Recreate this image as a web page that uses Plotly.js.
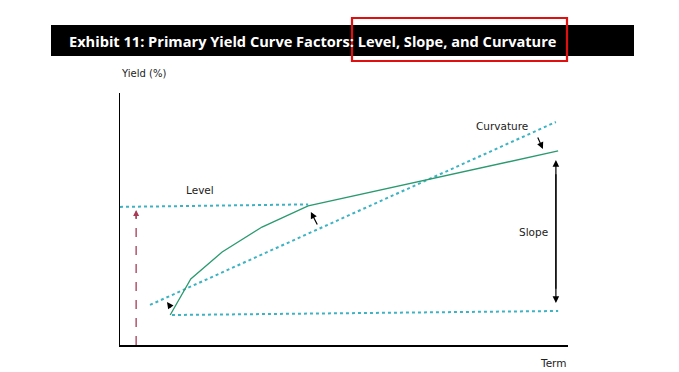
<!DOCTYPE html>
<html>
<head>
<meta charset="utf-8">
<script src="https://cdn.plot.ly/plotly-3.0.1.min.js"></script>
<style>html,body{margin:0;padding:0;background:#fff;}#chart{width:679px;height:372px;}</style>
</head>
<body>
<div id="chart"></div>
<script>
// Data (conceptual units: term 0-100, yield 0-100)
const curveTerm  = [11.2, 15.8, 22.8, 31.7, 42.0, 97.8];
const curveYield = [11.9, 26.2, 36.9, 46.8, 55.2, 77.0];
const levelTerm  = [0, 42.0];
const levelYield = [54.8, 55.8];
const curvTerm   = [6.7, 97.3];
const curvYield  = [15.9, 88.5];
const baseTerm   = [11.6, 97.8];
const baseYield  = [11.9, 13.5];
const levelArrowTerm = 3.6;
const levelArrowYield = [0, 53.6];
const slopeArrowTerm = 97.3;
const slopeArrowYield = [16.7, 73.4];
const labels = ["Level", "Curvature", "Slope"];
const labelTerm = [17.9, 85.3, 92.2];
const labelYield = [61.5, 86.9, 44.8];
const titleText = "Exhibit 11: Primary Yield Curve Factors: Level, Slope, and Curvature";

const W = 679, H = 372;
const L = 120, R = 568, T = 93, B = 345;
const px = x => (x - L) / (R - L);
const py = y => (B - y) / (B - T);

const dotColor = "#3cb3c3";
const traces = [
  {x: levelTerm, y: levelYield, mode: "lines", line: {color: dotColor, width: 2, dash: "dot"}},
  {x: curvTerm, y: curvYield, mode: "lines", line: {color: dotColor, width: 2, dash: "dot"}},
  {x: baseTerm, y: baseYield, mode: "lines", line: {color: dotColor, width: 2, dash: "dot"}},
  {x: curveTerm, y: curveYield, mode: "lines", line: {color: "#2a9a70", width: 1.3}},
  {x: [levelArrowTerm, levelArrowTerm], y: [levelArrowYield[0], levelArrowYield[1] - 1], mode: "lines", line: {color: "#a83a55", width: 1.3, dash: "dash"}}
];

const ann = [];
function arrow(x, y, ax, ay, color, head, size) {
  ann.push({x: x, y: y, ax: ax, ay: ay, xref: "x", yref: "y", axref: "x", ayref: "y",
    showarrow: true, arrowhead: head, arrowsize: size, arrowwidth: 1.2, arrowcolor: color, text: ""});
}
arrow(levelArrowTerm, levelArrowYield[1], levelArrowTerm, levelArrowYield[1] - 4, "#a83a55", 2, 1);
arrow(slopeArrowTerm, slopeArrowYield[1], slopeArrowTerm, slopeArrowYield[0] + 5, "#000", 2, 1.1);
arrow(slopeArrowTerm, slopeArrowYield[0], slopeArrowTerm, slopeArrowYield[1] - 5, "#000", 2, 1.1);
arrow(10.5, 17.1, 11.6, 14.3, "#000", 2, 1.1);
arrow(42.6, 52.8, 44.2, 47.2, "#000", 2, 1.1);
arrow(94.4, 77.8, 93.1, 82.9, "#000", 2, 1.1);

for (let i = 0; i < labels.length; i++) {
  ann.push({x: labelTerm[i], y: labelYield[i], xref: "x", yref: "y", xanchor: "center", yanchor: "middle", text: labels[i], showarrow: false,
    font: {family: "DejaVu Sans", size: 10.5, color: "#222"}});
}
ann.push({x: px(119), y: py(73), xref: "paper", yref: "paper", xanchor: "left", yanchor: "middle", text: "Yield (%)", showarrow: false,
  font: {family: "DejaVu Sans", size: 10, color: "#222"}});
ann.push({x: px(568), y: py(363), xref: "paper", yref: "paper", xanchor: "right", yanchor: "middle", text: "Term", showarrow: false,
  font: {family: "DejaVu Sans", size: 10.5, color: "#222"}});
ann.push({x: px(67), y: py(41), xref: "paper", yref: "paper", xanchor: "left", yanchor: "middle", text: "<b>" + titleText + "</b>", showarrow: false,
  font: {family: "Open Sans", size: 14.6, color: "#fff"}});

const shapes = [
  {type: "rect", xref: "paper", yref: "paper", x0: px(51), x1: px(634), y0: py(25), y1: py(56), fillcolor: "#000", line: {width: 0}, layer: "below"},
  {type: "rect", xref: "paper", yref: "paper", x0: px(352), x1: px(567), y0: py(18), y1: py(61), fillcolor: "rgba(0,0,0,0)", line: {color: "#e01010", width: 2.2}}
];

const layout = {
  width: W, height: H,
  margin: {l: L, r: W - R, t: T, b: H - B, pad: 0},
  paper_bgcolor: "#fff", plot_bgcolor: "#fff",
  showlegend: false,
  xaxis: {range: [0, 100], showline: true, linecolor: "#000", linewidth: 1.5, showgrid: false, zeroline: false, showticklabels: false, ticks: ""},
  yaxis: {range: [0, 100], showline: true, linecolor: "#000", linewidth: 1.5, showgrid: false, zeroline: false, showticklabels: false, ticks: ""},
  annotations: ann,
  shapes: shapes
};
Plotly.newPlot("chart", traces, layout, {displayModeBar: false, staticPlot: true});
</script>
</body>
</html>
